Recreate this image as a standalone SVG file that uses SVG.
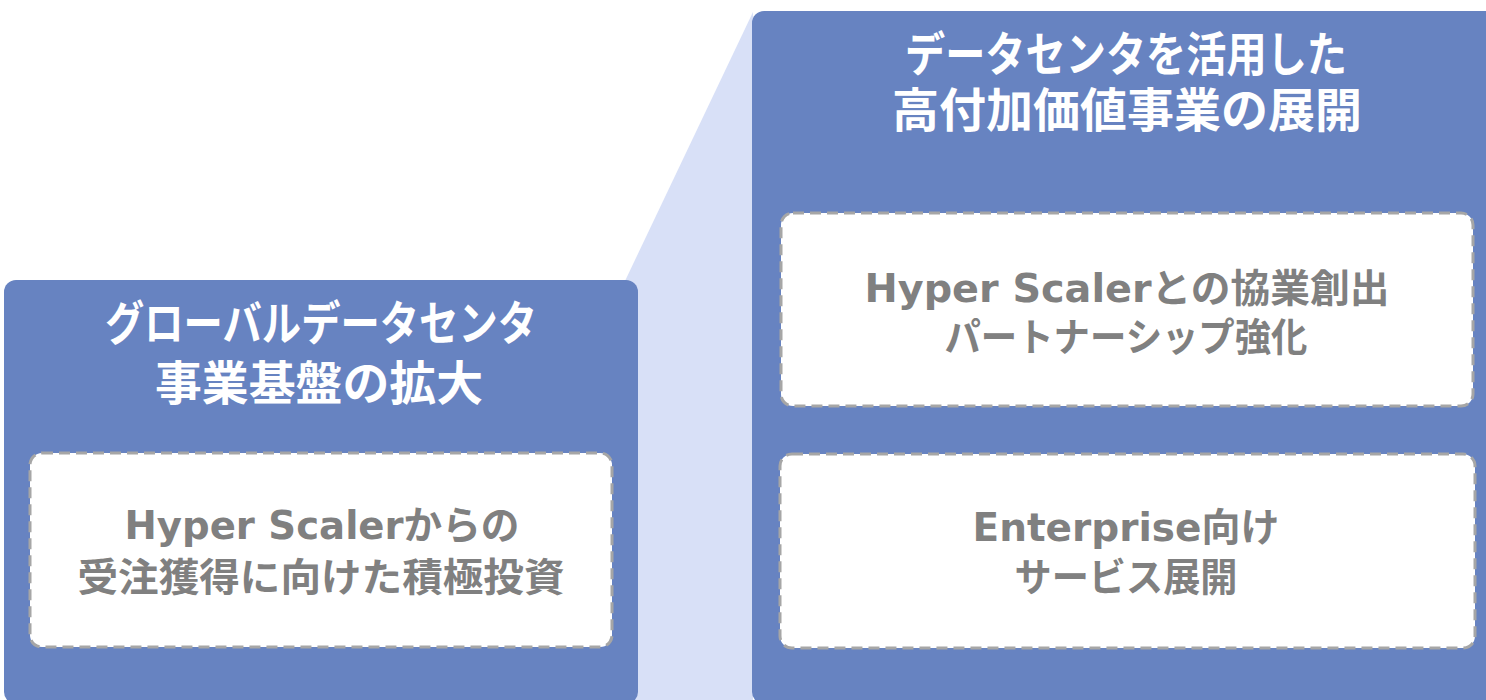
<svg xmlns="http://www.w3.org/2000/svg" width="1486" height="700" viewBox="0 0 1486 700">
  <style>
    .panel { fill: #6783C1; }
    .wedge { fill: #D8E0F7; }
    .card { fill: #FFFFFF; stroke: #A6A6A6; stroke-width: 3; stroke-dasharray: 11 6; }
    .head { font-family: "DejaVu Sans", "Noto Sans CJK JP", sans-serif; font-weight: bold; font-size: 47px; fill: #FFFFFF; text-anchor: middle; }
    .body { font-family: "DejaVu Sans", "Noto Sans CJK JP", sans-serif; font-weight: bold; font-size: 39px; fill: #808080; text-anchor: middle; }
  </style>
  <rect width="1486" height="700" fill="#FFFFFF"/>
  <polygon class="wedge" points="625,281 753,12 753,700 625,700"/>
  <g id="left-panel">
    <rect class="panel" x="4" y="280" width="634" height="424" rx="12"/>
    <text class="head" x="321" y="340" textLength="432" lengthAdjust="spacingAndGlyphs">グローバルデータセンタ</text>
    <text class="head" x="319" y="400" textLength="328" lengthAdjust="spacingAndGlyphs">事業基盤の拡大</text>
  </g>
  <g id="right-panel">
    <rect class="panel" x="752" y="11" width="760" height="693" rx="12"/>
    <text class="head" x="1126" y="71" textLength="442" lengthAdjust="spacingAndGlyphs">データセンタを活用した</text>
    <text class="head" x="1127" y="127" textLength="470" lengthAdjust="spacingAndGlyphs">高付加価値事業の展開</text>
  </g>
  <g id="card-left">
    <rect class="card" x="30" y="453" width="582" height="194" rx="12"/>
    <text class="body" x="322" y="539" textLength="395" lengthAdjust="spacingAndGlyphs">Hyper Scalerからの</text>
    <text class="body" x="321" y="591" textLength="487" lengthAdjust="spacingAndGlyphs">受注獲得に向けた積極投資</text>
  </g>
  <g id="card-right-top">
    <rect class="card" x="781" y="213" width="692" height="193" rx="12"/>
    <text class="body" x="1127" y="302" textLength="525" lengthAdjust="spacingAndGlyphs">Hyper Scalerとの協業創出</text>
    <text class="body" x="1126" y="351" textLength="363" lengthAdjust="spacingAndGlyphs">パートナーシップ強化</text>
  </g>
  <g id="card-right-bottom">
    <rect class="card" x="780" y="454" width="695" height="194" rx="12"/>
    <text class="body" x="1126" y="541" textLength="307" lengthAdjust="spacingAndGlyphs">Enterprise向け</text>
    <text class="body" x="1126" y="591" textLength="223" lengthAdjust="spacingAndGlyphs">サービス展開</text>
  </g>
  <g id="connectors"></g>
</svg>
